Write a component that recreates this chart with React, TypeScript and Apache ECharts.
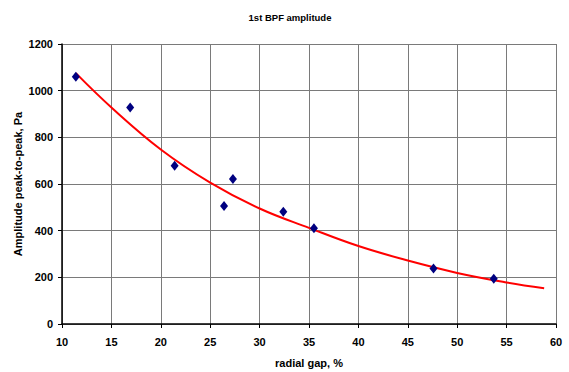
import React, { useEffect, useRef } from "react";
import * as echarts from "echarts";

const gapPoints: number[] = [11.4, 16.9, 21.4, 26.4, 27.3, 32.4, 35.5, 47.6, 53.7];
const amplitudePoints: number[] = [1060, 928, 678, 506, 621, 481, 410, 238, 194];

const trendGap: number[] = [11.4, 15, 20, 25, 30, 35, 40, 45, 50, 55, 58.8];
const trendAmplitude: number[] = [1075, 928, 748, 606, 495, 412, 334, 272, 219, 178, 153];

const xTicks = { min: 10, max: 60, interval: 5 };
const yTicks = { min: 0, max: 1200, interval: 200 };

export default function App() {
  const ref = useRef<HTMLDivElement>(null);
  useEffect(() => {
    if (!ref.current) return;
    const chart = echarts.init(ref.current, undefined, { renderer: "svg" });
    const font = "Liberation Sans, Arial, sans-serif";
    chart.setOption({
      animation: false,
      backgroundColor: "#ffffff",
      title: {
        text: "1st BPF amplitude",
        left: 285,
        top: 7,
        textAlign: "center",
        textStyle: { fontFamily: font, fontSize: 9.5, fontWeight: "bold", color: "#000" },
      },
      grid: { left: 62, right: 13, top: 44, bottom: 48, containLabel: false, outerBoundsMode: "none" },
      xAxis: {
        type: "value",
        min: xTicks.min,
        max: xTicks.max,
        interval: xTicks.interval,
        name: "radial gap, %",
        nameLocation: "middle",
        nameGap: 33,
        nameMoveOverlap: false,
        nameTextStyle: { fontFamily: font, fontSize: 11, fontWeight: "bold", color: "#000" },
        axisLine: { show: true, onZero: false, lineStyle: { color: "#000", width: 1.5 } },
        axisTick: { show: true, inside: false, length: 4, lineStyle: { color: "#000" } },
        axisLabel: {
          fontFamily: font, fontSize: 11, fontWeight: "bold", color: "#000", margin: 12,
          formatter: (v: number) => String(v),
        },
        splitLine: { show: true, lineStyle: { color: "#7a7a7a", width: 1 } },
      },
      yAxis: {
        type: "value",
        min: yTicks.min,
        max: yTicks.max,
        interval: yTicks.interval,
        name: "Amplitude peak-to-peak, Pa",
        nameLocation: "middle",
        nameGap: 39,
        nameMoveOverlap: false,
        nameTextStyle: { fontFamily: font, fontSize: 11, fontWeight: "bold", color: "#000" },
        axisLine: { show: true, onZero: false, lineStyle: { color: "#000", width: 1.5 } },
        axisTick: { show: true, inside: false, length: 4, lineStyle: { color: "#000" } },
        axisLabel: {
          fontFamily: font, fontSize: 11, fontWeight: "bold", color: "#000", margin: 9,
          formatter: (v: number) => String(v),
        },
        splitLine: { show: true, lineStyle: { color: "#7a7a7a", width: 1 } },
      },
      series: [
        {
          type: "line",
          data: trendGap.map((x, i) => [x, trendAmplitude[i]]),
          smooth: 0.4,
          showSymbol: false,
          symbol: "none",
          lineStyle: { color: "#ff0000", width: 2 },
          z: 2,
        },
        {
          type: "scatter",
          data: gapPoints.map((x, i) => [x, amplitudePoints[i]]),
          symbol: "diamond",
          symbolSize: [8, 10],
          itemStyle: { color: "#000080", opacity: 1 },
          z: 3,
        },
      ],
    });
    return () => chart.dispose();
  }, []);
  return (
    <div
      ref={ref}
      style={{ position: "absolute", left: 0, top: 0, width: 569, height: 372 }}
    />
  );
}
